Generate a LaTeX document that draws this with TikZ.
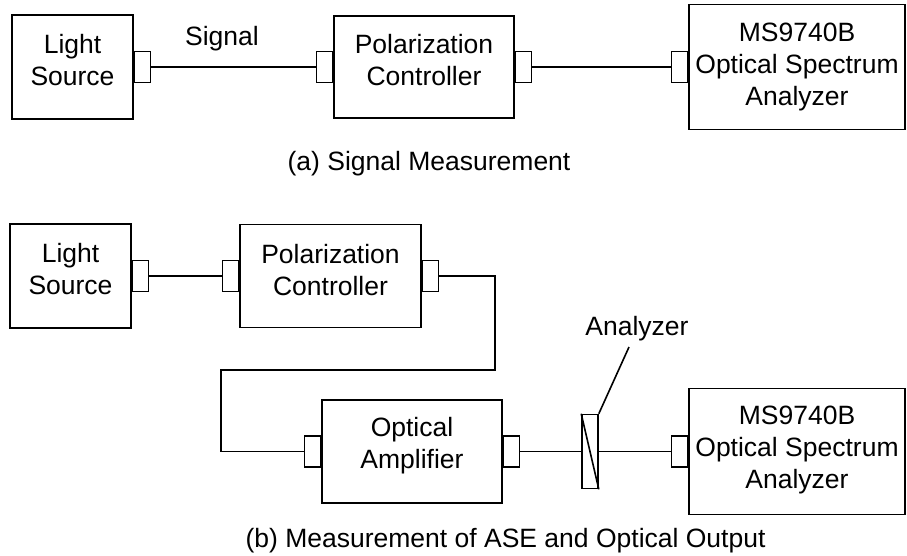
\documentclass[tikz,border=0pt]{standalone}
\usepackage{fontspec}
\setmainfont{Liberation Sans}
\usetikzlibrary{positioning}

\begin{document}
\begin{tikzpicture}[x=1pt, y=-1pt, line width=1.6pt,
    font=\fontsize{26.5}{32}\selectfont,
    box/.style args={#1/#2}{draw, inner sep=0pt, minimum width=#1pt, minimum height=#2pt},
    port/.style={draw, fill=white, inner sep=0pt, minimum width=16pt, minimum height=31pt},
    txt/.style={align=center, inner sep=0pt, anchor=north}]
    \useasboundingbox (0,0) rectangle (907,555);
    %% --- (a) Signal measurement ---
    \node[box=121/104] (src1) at (72.5,67) {};
    \node[box=180/102] (pc1) at (424,67) {};
    \node[box=216/125] (osa1) at (797,67) {};
    \node[txt] (src1t) at (72.5,33.3) {Light\\Source};
    \node[txt] (pc1t) at (424,33.3) {Polarization\\Controller};
    \node[txt] (osa1t) at (797,21.7) {MS9740B\\Optical Spectrum\\Analyzer};
    %% ports on the boxes
    \node[port, anchor=west] (src1o) at (src1.east) {};
    \node[port, anchor=east] (pc1i) at (pc1.west) {};
    \node[port, anchor=west] (pc1o) at (pc1.east) {};
    \node[port, anchor=east] (osa1i) at (osa1.west) {};
    \draw (src1o.east) -- (pc1i.west);
    \draw (pc1o.east) -- (osa1i.west);
    \node[anchor=base] (sig) at (222,45) {Signal};
    \node[anchor=base] (capa) at (429,170.7) {(a) Signal Measurement};
    %% --- (b) ASE and optical output ---
    \node[box=121/104] (src2) at (70.5,276) {};
    \node[box=181/103] (pc2) at (330.5,276) {};
    \node[box=180/103] (amp) at (412,451.5) {};
    \node[box=216/126] (osa2) at (797,451.5) {};
    \node[txt] (src2t) at (70.5,242.3) {Light\\Source};
    \node[txt] (pc2t) at (330.5,243.3) {Polarization\\Controller};
    \node[txt] (ampt) at (412,416.7) {Optical\\Amplifier};
    \node[txt] (osa2t) at (797,404.7) {MS9740B\\Optical Spectrum\\Analyzer};
    \node[port, anchor=west] (src2o) at (src2.east) {};
    \node[port, anchor=east] (pc2i) at (pc2.west) {};
    \node[port, anchor=west] (pc2o) at (pc2.east) {};
    \node[port, anchor=east] (ampi) at (amp.west) {};
    \node[port, anchor=west] (ampo) at (amp.east) {};
    \node[port, anchor=east] (osa2i) at (osa2.west) {};
    %% analyzer plate
    \node[box=16/74] (ana) at (590,451.5) {};
    \draw (ana.north west) -- (ana.south east);
    \node[anchor=base] (analbl) at (637,335) {Analyzer};
    \coordinate (anatip) at (629,347);
    \draw (ana.north east) -- (anatip);
    %% fibre runs
    \coordinate (loopR) at (495,370);
    \coordinate (loopL) at (221,370);
    \draw (src2o.east) -- (pc2i.west);
    \draw (pc2o.east) -| (loopR) -- (loopL) |- (ampi.west);
    \draw (ampo.east) -- (ana.west);
    \draw (ana.east) -- (osa2i.west);
    \node[anchor=base] (capb) at (505.5,547) {(b) Measurement of ASE and Optical Output};
\end{tikzpicture}
\end{document}
